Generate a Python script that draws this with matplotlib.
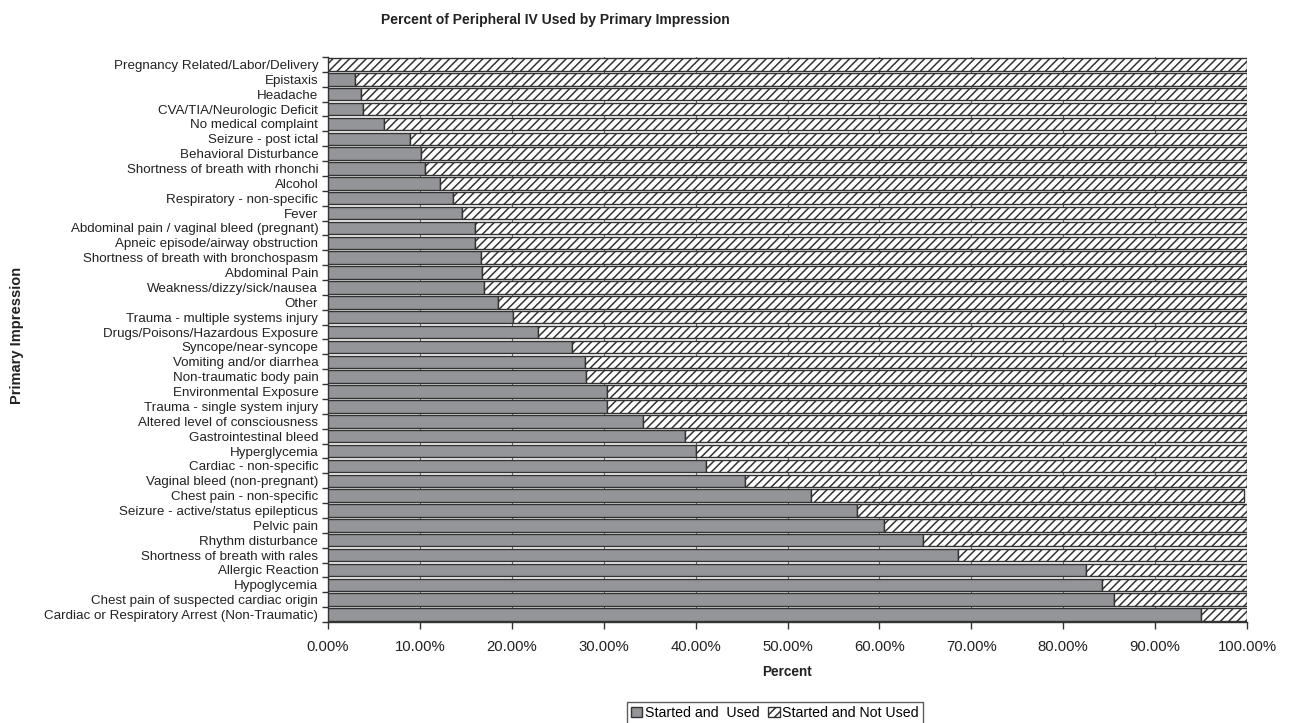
import matplotlib
matplotlib.use("Agg")
import matplotlib.pyplot as plt
from matplotlib.patches import Patch
from matplotlib.ticker import FixedLocator, FuncFormatter
import numpy as np

plt.rcParams['font.family'] = ['Liberation Sans', 'DejaVu Sans']
plt.rcParams['hatch.linewidth'] = 1.1

categories = [
    "Pregnancy Related/Labor/Delivery",
    "Epistaxis",
    "Headache",
    "CVA/TIA/Neurologic Deficit",
    "No medical complaint",
    "Seizure - post ictal",
    "Behavioral Disturbance",
    "Shortness of breath with rhonchi",
    "Alcohol",
    "Respiratory - non-specific",
    "Fever",
    "Abdominal pain / vaginal bleed (pregnant)",
    "Apneic episode/airway obstruction",
    "Shortness of breath with bronchospasm",
    "Abdominal Pain",
    "Weakness/dizzy/sick/nausea",
    "Other",
    "Trauma - multiple systems injury",
    "Drugs/Poisons/Hazardous Exposure",
    "Syncope/near-syncope",
    "Vomiting and/or diarrhea",
    "Non-traumatic body pain",
    "Environmental Exposure",
    "Trauma - single system injury",
    "Altered level of consciousness",
    "Gastrointestinal bleed",
    "Hyperglycemia",
    "Cardiac - non-specific",
    "Vaginal bleed (non-pregnant)",
    "Chest pain - non-specific",
    "Seizure - active/status epilepticus",
    "Pelvic pain",
    "Rhythm disturbance",
    "Shortness of breath with rales",
    "Allergic Reaction",
    "Hypoglycemia",
    "Chest pain of suspected cardiac origin",
    "Cardiac or Respiratory Arrest (Non-Traumatic)",
]

started_used = [
    0.0, 2.9, 3.6, 3.8, 6.1, 8.9, 10.1, 10.6, 12.2, 13.6,
    14.6, 16.0, 16.0, 16.7, 16.8, 17.0, 18.5, 20.1, 22.9, 26.6,
    28.0, 28.1, 30.4, 30.4, 34.3, 38.9, 40.0, 41.1, 45.4, 52.6,
    57.6, 60.5, 64.7, 68.6, 82.5, 84.2, 85.5, 95.0,
]

started_not_used = [
    100.0, 97.1, 96.4, 96.2, 93.9, 91.1, 89.9, 89.4, 87.8, 86.4,
    85.4, 84.0, 84.0, 83.3, 83.2, 83.0, 81.5, 79.9, 77.1, 73.4,
    72.0, 71.9, 69.6, 69.6, 65.7, 61.1, 60.0, 58.9, 54.6, 47.1,
    42.4, 39.5, 35.3, 31.4, 17.5, 15.8, 14.5, 5.0,
]

x_ticks = [0, 10, 20, 30, 40, 50, 60, 70, 80, 90, 100]

fig = plt.figure(figsize=(12.92, 7.23), dpi=100)
ax = fig.add_axes([328 / 1292, 101 / 723, 919 / 1292, 565 / 723])

n = len(categories)
ypos = np.arange(n)[::-1]  # first category at top
h = 0.84
edge = '#333333'
gray = '#939598'

ax.barh(ypos, started_used, height=h, color=gray, edgecolor=edge,
        linewidth=1.0, zorder=3)
ax.barh(ypos, started_not_used, left=started_used, height=h, color='white',
        edgecolor=edge, hatch='////', linewidth=1.0, zorder=3)

ax.set_xlim(0, 100)
ax.set_ylim(-0.5, n - 0.5)

ax.xaxis.set_major_locator(FixedLocator(x_ticks))
ax.xaxis.set_major_formatter(FuncFormatter(lambda v, p: f"{v:.2f}%"))
ax.tick_params(axis='x', direction='out', length=5, width=1, color='#333333',
               labelsize=10.7, pad=8, labelcolor='#222222')

ax.set_yticks(ypos)
ax.set_yticklabels(categories)
ax.tick_params(axis='y', which='major', length=0, labelsize=9.6, pad=7,
               labelcolor='#222222')
ax.set_yticks(np.arange(n + 1) - 0.5, minor=True)
ax.tick_params(axis='y', which='minor', direction='out', length=4, width=1,
               color='#333333')

ax.grid(axis='x', color='#666666', linewidth=0.8, zorder=0)
ax.set_axisbelow(True)

for s in ['top', 'right']:
    ax.spines[s].set_visible(False)
for s in ['left', 'bottom']:
    ax.spines[s].set_color('#333333')
    ax.spines[s].set_linewidth(1.0)

fig.text(555 / 1292, 1 - 20 / 723,
         "Percent of Peripheral IV Used by Primary Impression",
         ha='center', va='center', fontsize=10, fontweight='bold',
         color='#222222')
fig.text(787 / 1292, 1 - 672 / 723, "Percent",
         ha='center', va='center', fontsize=9.8, fontweight='bold',
         color='#222222')
fig.text(17 / 1292, 1 - 335 / 723, "Primary Impression", rotation=90,
         ha='center', va='center', fontsize=10.5, fontweight='bold',
         color='#222222')

handles = [
    Patch(facecolor=gray, edgecolor=edge, linewidth=1.0, label='Started and  Used'),
    Patch(facecolor='white', edgecolor=edge, hatch='////', linewidth=1.0,
          label='Started and Not Used'),
]
leg = fig.legend(handles=handles, loc='center', ncol=2,
                 bbox_to_anchor=(775 / 1292, 1 - 713 / 723),
                 frameon=True, fancybox=False, fontsize=10.2,
                 handlelength=0.8, handleheight=0.8, handletextpad=0.2,
                 columnspacing=0.6, borderpad=0.25, borderaxespad=0)
leg.get_frame().set_edgecolor('#333333')
leg.get_frame().set_linewidth(1.0)

fig.savefig("out.png", dpi=100)
